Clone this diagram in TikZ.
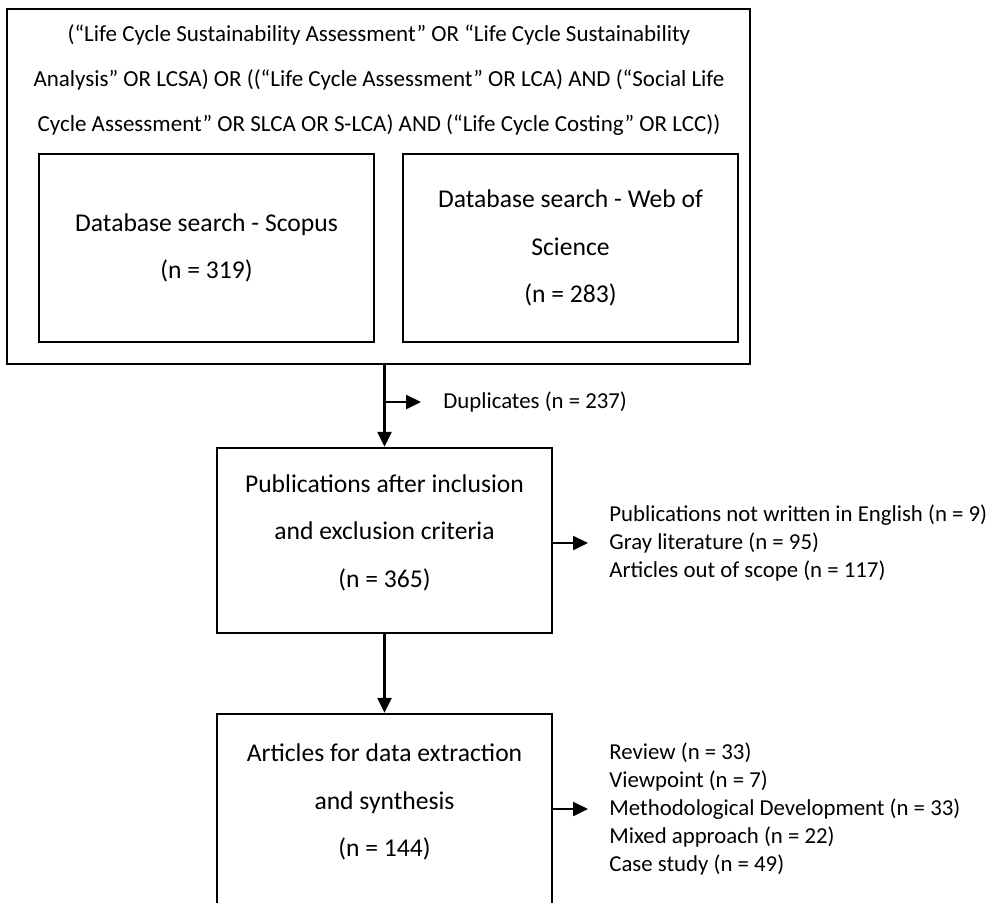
\documentclass[tikz,border=0pt]{standalone}
\usepackage{fontspec}
\setmainfont{Carlito}
\usetikzlibrary{arrows.meta}
\begin{document}
\begin{tikzpicture}[x=0.5pt, y=-0.5pt,
        mybox/.style={draw, line width=1.2pt, minimum width=167.5pt, inner sep=0pt},
        mytext/.style={align=center, font=\fontsize{12.8}{23.7}\selectfont},
        mylist/.style={anchor=west, align=left, inner sep=0pt, font=\fontsize{11.4}{14}\selectfont},
        myarrow/.style={line width=1.2pt, -{Triangle[length=7.5pt,width=7pt]}}
    ]
    \useasboundingbox (0,0) rectangle (995,902);
    \clip (0,0) rectangle (995,902);

    \node [mybox, minimum width=371.5pt, minimum height=177.5pt] (search) at (378.5,186.5) {};
    \node [align=center, font=\fontsize{11.5}{22.5}\selectfont] (query) at (379,80)
        {(“Life Cycle Sustainability Assessment” OR “Life Cycle Sustainability\\
         Analysis” OR LCSA) OR ((“Life Cycle Assessment” OR LCA) AND (“Social Life\\
         Cycle Assessment” OR SLCA OR S-LCA) AND (“Life Cycle Costing” OR LCC))};
    \node [mybox, mytext, minimum height=94pt] (scopus) at (206.5,248)
        {Database search - Scopus\\(n = 319)};
    \node [mybox, mytext, minimum height=94pt] (wos) at (570.5,248)
        {Database search - Web of\\Science\\(n = 283)};

    \node [mybox, minimum height=92.5pt] (screened) at (384.5,540.5) {};
    \node [mytext] (screenedtext) at ([yshift=4pt]screened.center)
        {Publications after inclusion\\and exclusion criteria\\(n = 365)};
    \node [mybox, minimum height=100pt] (included) at (384.5,814) {};
    \node [mytext] (includedtext) at ([yshift=6pt]included.center)
        {Articles for data extraction\\and synthesis\\(n = 144)};

    \coordinate (b1) at (screened.north |- 0,402);
    \node [mylist] (dup) at (443,402) {Duplicates (n = 237)};
    \node [mylist] (excl) at (609,543)
        {Publications not written in English (n = 9)\\
         Gray literature (n = 95)\\
         Articles out of scope (n = 117)};
    \node [mylist] (types) at (609,809)
        {Review (n = 33)\\
         Viewpoint (n = 7)\\
         Methodological Development (n = 33)\\
         Mixed approach (n = 22)\\
         Case study (n = 49)};

    \draw [myarrow] (search.south -| screened.north) -- (screened.north);
    \draw [myarrow, shorten >=11pt] (b1) -- (dup.west);
    \draw [myarrow, shorten >=10.5pt] (screened.east |- excl.west) -- (excl.west);
    \draw [myarrow] (screened.south) -- (included.north);
    \draw [myarrow, shorten >=10.5pt] (included.east |- types.west) -- (types.west);
\end{tikzpicture}
\end{document}
